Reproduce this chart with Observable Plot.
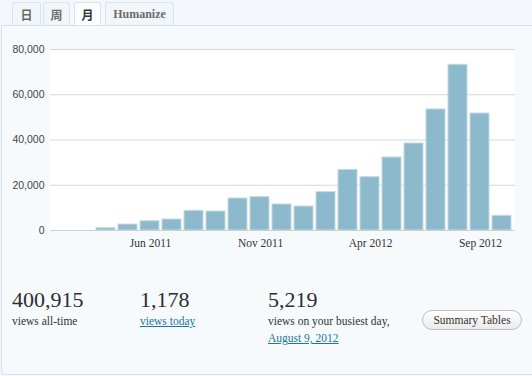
<!DOCTYPE html>
<html>
<head>
<meta charset="utf-8">
<script src="https://cdn.jsdelivr.net/npm/d3@7"></script>
<script src="https://cdn.jsdelivr.net/npm/@observablehq/plot@0.6"></script>
<style>
  html, body { margin: 0; padding: 0; }
  body { width: 532px; height: 376px; overflow: hidden; position: relative; background: #f4f8fc; font-family: "Liberation Serif", serif; }
  .panel { position: absolute; left: 1px; top: 25px; width: 600px; height: 350px; box-sizing: border-box;
           border: 1px solid #d8e1ea; border-bottom-left-radius: 4px; background: #f6fafd; }
  .tab { position: absolute; top: 2px; height: 23px; box-sizing: border-box; border: 1px solid #dbe4ec; border-bottom: none;
         border-radius: 3px 3px 0 0; background: #f1f6fa; color: #6b6b6b; font-weight: bold; font-size: 12px;
         display: flex; align-items: center; justify-content: center; }
  .tab.cjk { font-family: "Noto Sans CJK SC", sans-serif; }
  .tab.active { background: #fdfeff; color: #333; }
  .t { position: absolute; white-space: nowrap; color: #333; }
  .big { font-size: 22px; line-height: 22px; color: #2e2e2e; }
  .small { font-size: 11.5px; line-height: 11.5px; }
  .link { color: #21759b; text-decoration: underline; }
  .btn { position: absolute; left: 422px; top: 310px; width: 100px; height: 20px; box-sizing: border-box;
         border: 1px solid #bdbdbd; border-radius: 10px; background: linear-gradient(#ffffff, #ebebeb);
         font-size: 11.5px; line-height: 18px; text-align: center; color: #333; }
  #chart { position: absolute; left: 0; top: 30px; }
</style>
</head>
<body>
<div class="panel"></div>
<div class="tab cjk" style="left:12px;width:29px;">日</div>
<div class="tab cjk" style="left:43px;width:27px;">周</div>
<div class="tab cjk active" style="left:74px;width:27px;">月</div>
<div class="tab" style="left:105px;width:69px;">Humanize</div>
<div id="chart"></div>

<div class="t big" style="left:12px;top:288.5px;">400,915</div>
<div class="t small" style="left:12px;top:316.4px;">views all-time</div>
<div class="t big" style="left:140px;top:288.5px;">1,178</div>
<div class="t small link" style="left:140px;top:316.4px;">views today</div>
<div class="t big" style="left:268px;top:288.5px;">5,219</div>
<div class="t small" style="left:268px;top:316.4px;">views on your busiest day,</div>
<div class="t small link" style="left:268px;top:333px;">August 9, 2012</div>
<div class="btn">Summary Tables</div>

<script>
const months = ["Feb 2011","Mar 2011","Apr 2011","May 2011","Jun 2011","Jul 2011","Aug 2011","Sep 2011","Oct 2011","Nov 2011","Dec 2011","Jan 2012","Feb 2012","Mar 2012","Apr 2012","May 2012","Jun 2012","Jul 2012","Aug 2012","Sep 2012","Oct 2012"];
const views = [0, 0, 1000, 2650, 4100, 4860, 8700, 8400, 14150, 14730, 11500, 10600, 16950, 26800, 23570, 32270, 38450, 53500, 73240, 51700, 6500];
const xTickLabels = ["Jun 2011", "Nov 2011", "Apr 2012", "Sep 2012"];
const yTicks = [0, 20000, 40000, 60000, 80000];

const data = months.map((m, i) => ({month: m, views: views[i]}));

const chart = Plot.plot({
  width: 532,
  height: 230,
  marginLeft: 50,
  marginRight: 17,
  marginTop: 19,
  marginBottom: 30,
  style: {background: "transparent", color: "#333", fontFamily: "'Liberation Sans', Arial, sans-serif", fontSize: "10.5px"},
  x: {type: "band", domain: months, range: [51, 513], paddingInner: 1/11, paddingOuter: 1/22, round: false, axis: null},
  y: {domain: [0, 80000], axis: null},
  marks: [
    Plot.frame({fill: "white", stroke: "none", insetLeft: -0.5, insetTop: -0.5, insetRight: 0.5, insetBottom: 0.5}),
    Plot.ruleY(yTicks.slice(1), {stroke: "#d6d6d6", strokeOpacity: 1}),
    Plot.barY(data.filter(d => d.views > 0), {x: "month", y: "views", fill: "#8cb9cc", stroke: "#c3dae5", insetLeft: 0, insetRight: 1}),
    Plot.ruleY([0], {stroke: "#cfcfcf", strokeOpacity: 1}),
    Plot.axisY({ticks: yTicks, tickSize: 0, tickPadding: 6, tickFormat: d3.format(","), fill: "#444", label: null}),
    Plot.axisX({ticks: xTickLabels, tickSize: 0, tickPadding: 8, fontFamily: "'Liberation Serif', serif", fontSize: 11.5, fill: "#333", label: null})
  ]
});
document.getElementById("chart").appendChild(chart);
</script>
</body>
</html>
